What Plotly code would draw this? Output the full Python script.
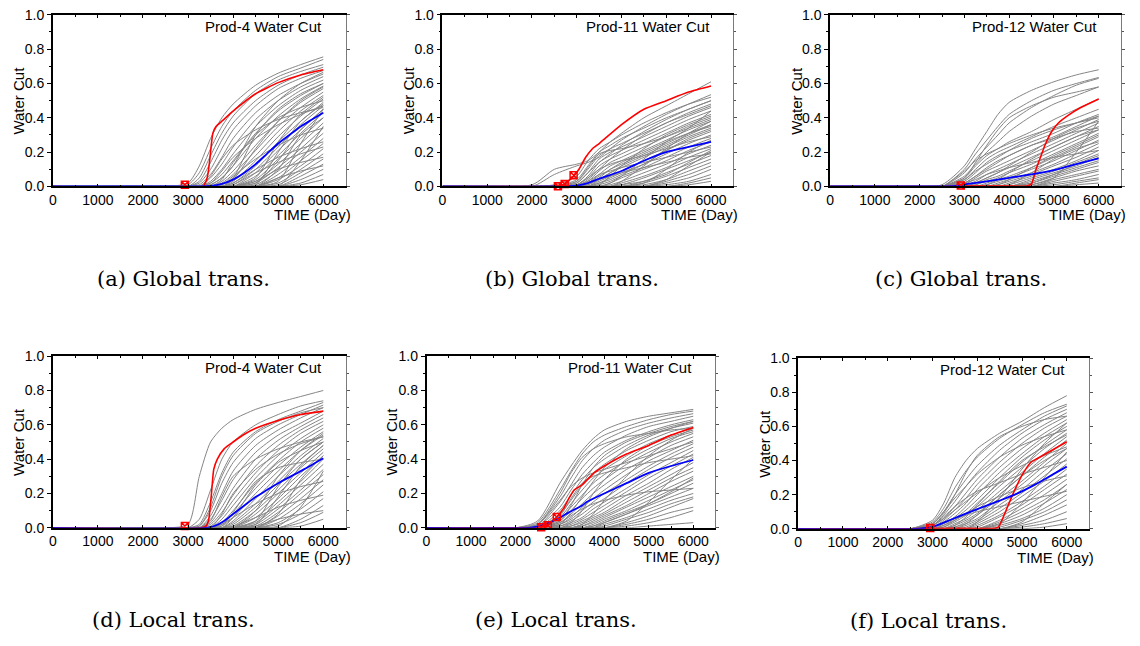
import plotly.graph_objects as go

# Common report times (days) for the ensemble members; each member is 0 at day 0
ENS_TIMES = [2000, 2500, 3000, 3250, 3500, 3750, 4000, 4500, 5000, 5500, 6000]

# ---- Prod-4, global transmissibility ----
ens_a = [
    [0, 0, 0.02, 0.12, 0.28, 0.40, 0.48, 0.59, 0.66, 0.71, 0.755],
    [0, 0, 0.01, 0.08, 0.22, 0.35, 0.44, 0.56, 0.64, 0.69, 0.74],
    [0, 0, 0, 0.05, 0.18, 0.31, 0.41, 0.54, 0.62, 0.67, 0.71],
    [0, 0, 0, 0.03, 0.14, 0.27, 0.37, 0.50, 0.59, 0.65, 0.695],
    [0, 0, 0, 0.02, 0.10, 0.22, 0.33, 0.47, 0.57, 0.63, 0.675],
    [0, 0, 0, 0.01, 0.07, 0.17, 0.28, 0.43, 0.53, 0.60, 0.655],
    [0, 0, 0, 0, 0.05, 0.13, 0.23, 0.39, 0.50, 0.58, 0.64],
    [0, 0, 0, 0, 0.03, 0.10, 0.19, 0.35, 0.47, 0.56, 0.62],
    [0, 0, 0, 0, 0.02, 0.07, 0.15, 0.31, 0.44, 0.53, 0.60],
    [0, 0, 0, 0, 0.01, 0.05, 0.12, 0.28, 0.41, 0.51, 0.585],
    [0, 0, 0, 0, 0, 0.03, 0.09, 0.24, 0.38, 0.49, 0.57],
    [0, 0, 0, 0, 0, 0.02, 0.07, 0.21, 0.35, 0.46, 0.55],
    [0, 0, 0, 0, 0, 0.01, 0.05, 0.18, 0.32, 0.44, 0.53],
    [0, 0, 0, 0, 0, 0, 0.03, 0.15, 0.29, 0.41, 0.51],
    [0, 0, 0, 0, 0, 0, 0.02, 0.12, 0.26, 0.38, 0.49],
    [0, 0, 0, 0, 0, 0, 0.01, 0.10, 0.23, 0.36, 0.47],
    [0, 0, 0, 0, 0, 0, 0, 0.08, 0.21, 0.33, 0.45],
    [0, 0, 0, 0, 0, 0, 0, 0.06, 0.18, 0.31, 0.43],
    [0, 0, 0, 0, 0, 0, 0, 0.04, 0.16, 0.28, 0.40],
    [0, 0, 0, 0, 0, 0, 0, 0.03, 0.13, 0.25, 0.37],
    [0, 0, 0, 0, 0, 0, 0, 0.02, 0.11, 0.22, 0.34],
    [0, 0, 0, 0, 0, 0, 0, 0.01, 0.09, 0.20, 0.31],
    [0, 0, 0, 0, 0, 0, 0, 0, 0.07, 0.17, 0.28],
    [0, 0, 0, 0, 0, 0, 0, 0, 0.05, 0.15, 0.25],
    [0, 0, 0, 0, 0, 0, 0, 0, 0.04, 0.12, 0.22],
    [0, 0, 0, 0, 0, 0, 0, 0, 0.02, 0.10, 0.19],
    [0, 0, 0, 0, 0, 0, 0, 0, 0.01, 0.08, 0.16],
    [0, 0, 0, 0, 0, 0, 0, 0, 0, 0.06, 0.13],
    [0, 0, 0, 0, 0, 0, 0, 0, 0, 0.04, 0.10],
    [0, 0, 0, 0, 0, 0, 0, 0, 0, 0.02, 0.07],
    [0, 0, 0, 0, 0, 0, 0, 0, 0, 0.01, 0.04],
    [0, 0, 0, 0, 0.06, 0.16, 0.24, 0.33, 0.39, 0.43, 0.46],
    [0, 0, 0, 0, 0.02, 0.09, 0.17, 0.28, 0.36, 0.42, 0.47],
    [0, 0, 0, 0, 0, 0, 0.04, 0.22, 0.38, 0.50, 0.58],
    [0, 0, 0, 0, 0, 0, 0, 0.05, 0.26, 0.42, 0.52],
    [0, 0, 0, 0, 0, 0, 0, 0.02, 0.15, 0.33, 0.45],
    [0, 0, 0, 0, 0, 0.04, 0.14, 0.30, 0.40, 0.46, 0.50],
    [0, 0, 0, 0, 0, 0, 0.02, 0.10, 0.17, 0.22, 0.26],
    [0, 0, 0, 0, 0, 0, 0, 0, 0.03, 0.25, 0.45],
    [0, 0, 0, 0, 0, 0, 0, 0.01, 0.20, 0.38, 0.48],
    [0, 0, 0, 0, 0, 0, 0.01, 0.08, 0.14, 0.19, 0.23],
    [0, 0, 0, 0, 0, 0.01, 0.06, 0.16, 0.24, 0.30, 0.34],
    [0, 0, 0, 0, 0, 0, 0, 0, 0.10, 0.30, 0.40],
    [0, 0, 0, 0, 0, 0, 0, 0.03, 0.10, 0.14, 0.17],
    [0, 0, 0, 0, 0, 0, 0, 0, 0, 0.15, 0.35],
    [0, 0, 0, 0, 0.01, 0.05, 0.12, 0.35, 0.50, 0.60, 0.665],
    [0, 0, 0, 0, 0, 0, 0.05, 0.30, 0.45, 0.54, 0.60],
    [0, 0, 0, 0, 0, 0, 0, 0, 0.05, 0.09, 0.12],
]
true_t_a = [0, 3330, 3400, 3440, 3480, 3515, 3550, 3620, 3770, 4050, 4500, 5000, 5500, 6000]
true_v_a = [0, 0, 0.03, 0.07, 0.15, 0.24, 0.31, 0.35, 0.385, 0.45, 0.54, 0.605, 0.65, 0.68]
mean_t_a = [0, 3300, 3500, 3750, 4000, 4250, 4500, 4750, 5000, 5250, 5500, 5750, 6000]
mean_v_a = [0, 0, 0.003, 0.015, 0.04, 0.08, 0.13, 0.19, 0.25, 0.30, 0.35, 0.39, 0.43]
obs_t_a = [2930]
obs_v_a = [0.01]

# ---- Prod-11, global transmissibility ----
ens_b = [
    [0.01, 0.10, 0.13, 0.15, 0.20, 0.26, 0.31, 0.40, 0.47, 0.54, 0.61],
    [0, 0.07, 0.12, 0.14, 0.17, 0.22, 0.27, 0.35, 0.42, 0.48, 0.535],
    [0, 0.01, 0.06, 0.15, 0.22, 0.26, 0.30, 0.37, 0.43, 0.48, 0.52],
    [0, 0, 0.04, 0.12, 0.20, 0.24, 0.28, 0.34, 0.40, 0.45, 0.50],
    [0, 0, 0.03, 0.10, 0.18, 0.22, 0.25, 0.31, 0.37, 0.43, 0.48],
    [0, 0, 0.02, 0.08, 0.16, 0.20, 0.23, 0.29, 0.35, 0.41, 0.46],
    [0, 0, 0.01, 0.06, 0.14, 0.18, 0.21, 0.27, 0.33, 0.39, 0.44],
    [0, 0, 0.01, 0.05, 0.12, 0.16, 0.19, 0.25, 0.31, 0.37, 0.42],
    [0, 0, 0, 0.03, 0.09, 0.14, 0.17, 0.23, 0.29, 0.35, 0.40],
    [0, 0, 0, 0.02, 0.07, 0.12, 0.15, 0.21, 0.27, 0.33, 0.38],
    [0, 0, 0, 0.01, 0.05, 0.10, 0.13, 0.19, 0.25, 0.31, 0.36],
    [0, 0, 0, 0, 0.04, 0.08, 0.11, 0.17, 0.23, 0.29, 0.34],
    [0, 0, 0, 0, 0.03, 0.06, 0.09, 0.15, 0.21, 0.27, 0.32],
    [0, 0, 0, 0, 0.02, 0.05, 0.08, 0.13, 0.19, 0.25, 0.30],
    [0, 0, 0, 0, 0.01, 0.03, 0.06, 0.11, 0.17, 0.23, 0.28],
    [0, 0, 0, 0, 0, 0.02, 0.05, 0.10, 0.15, 0.21, 0.26],
    [0, 0, 0, 0, 0, 0.01, 0.03, 0.08, 0.13, 0.19, 0.24],
    [0, 0, 0, 0, 0, 0, 0.02, 0.06, 0.11, 0.17, 0.22],
    [0, 0, 0, 0, 0, 0, 0.01, 0.05, 0.10, 0.15, 0.20],
    [0, 0, 0, 0, 0, 0, 0, 0.03, 0.08, 0.13, 0.18],
    [0, 0, 0, 0, 0, 0, 0, 0.02, 0.06, 0.11, 0.16],
    [0, 0, 0, 0, 0, 0, 0, 0.01, 0.04, 0.09, 0.14],
    [0, 0, 0, 0, 0, 0, 0, 0, 0.03, 0.07, 0.12],
    [0, 0, 0, 0, 0, 0, 0, 0, 0.02, 0.05, 0.10],
    [0, 0, 0, 0, 0, 0, 0, 0, 0.01, 0.03, 0.07],
    [0, 0, 0, 0, 0, 0, 0, 0, 0, 0.02, 0.05],
    [0, 0, 0, 0, 0, 0, 0, 0, 0, 0.01, 0.03],
    [0, 0, 0.02, 0.08, 0.14, 0.19, 0.24, 0.32, 0.39, 0.45, 0.50],
    [0, 0, 0, 0.04, 0.10, 0.16, 0.21, 0.30, 0.37, 0.42, 0.47],
    [0, 0, 0, 0.02, 0.06, 0.10, 0.14, 0.20, 0.26, 0.31, 0.35],
    [0, 0, 0.01, 0.03, 0.07, 0.09, 0.11, 0.14, 0.17, 0.20, 0.23],
    [0, 0, 0, 0, 0.02, 0.04, 0.07, 0.13, 0.21, 0.28, 0.33],
    [0, 0, 0, 0, 0, 0, 0.01, 0.03, 0.07, 0.14, 0.21],
    [0, 0, 0, 0.02, 0.04, 0.06, 0.08, 0.11, 0.14, 0.17, 0.19],
    [0, 0, 0.03, 0.11, 0.19, 0.21, 0.22, 0.25, 0.29, 0.34, 0.39],
    [0, 0, 0, 0, 0.01, 0.06, 0.12, 0.22, 0.30, 0.36, 0.41],
    [0, 0, 0, 0, 0, 0, 0.03, 0.12, 0.22, 0.31, 0.38],
    [0, 0, 0.01, 0.05, 0.10, 0.13, 0.15, 0.18, 0.22, 0.26, 0.29],
    [0, 0, 0, 0, 0, 0.02, 0.06, 0.16, 0.26, 0.34, 0.44],
    [0, 0, 0, 0, 0, 0, 0, 0.02, 0.10, 0.20, 0.27],
    [0, 0, 0, 0.01, 0.04, 0.08, 0.12, 0.18, 0.24, 0.30, 0.36],
    [0, 0, 0, 0, 0, 0, 0, 0, 0.04, 0.12, 0.20],
]
true_t_b = [0, 2400, 2580, 2730, 2930, 3050, 3200, 3350, 3500, 4000, 4500, 5000, 5500, 6000]
true_v_b = [0, 0, 0.002, 0.015, 0.06, 0.10, 0.17, 0.22, 0.25, 0.36, 0.45, 0.50, 0.55, 0.585]
mean_t_b = [0, 2500, 3000, 3250, 3500, 4000, 4500, 5000, 5500, 6000]
mean_v_b = [0, 0, 0.005, 0.02, 0.045, 0.09, 0.15, 0.20, 0.23, 0.26]
obs_t_b = [2580, 2730, 2930]
obs_v_b = [0.002, 0.015, 0.065]

# ---- Prod-12, global transmissibility ----
ens_c = [
    [0, 0.01, 0.12, 0.22, 0.32, 0.42, 0.49, 0.56, 0.61, 0.65, 0.68],
    [0, 0, 0.10, 0.19, 0.27, 0.35, 0.42, 0.50, 0.56, 0.60, 0.635],
    [0, 0, 0.08, 0.16, 0.23, 0.30, 0.37, 0.46, 0.53, 0.59, 0.63],
    [0, 0, 0.06, 0.13, 0.20, 0.26, 0.32, 0.41, 0.48, 0.53, 0.58],
    [0, 0, 0.05, 0.12, 0.18, 0.22, 0.26, 0.32, 0.39, 0.45, 0.51],
    [0, 0, 0.04, 0.10, 0.16, 0.20, 0.23, 0.29, 0.35, 0.40, 0.45],
    [0, 0, 0.03, 0.08, 0.14, 0.18, 0.21, 0.26, 0.31, 0.37, 0.42],
    [0, 0, 0.02, 0.06, 0.11, 0.15, 0.18, 0.24, 0.29, 0.35, 0.41],
    [0, 0, 0.01, 0.05, 0.09, 0.12, 0.15, 0.21, 0.27, 0.33, 0.39],
    [0, 0, 0.01, 0.03, 0.07, 0.10, 0.13, 0.19, 0.25, 0.31, 0.37],
    [0, 0, 0, 0.02, 0.05, 0.08, 0.11, 0.17, 0.23, 0.29, 0.35],
    [0, 0, 0, 0.01, 0.04, 0.06, 0.09, 0.15, 0.21, 0.27, 0.33],
    [0, 0, 0, 0.01, 0.03, 0.05, 0.08, 0.13, 0.19, 0.25, 0.31],
    [0, 0, 0, 0, 0.02, 0.04, 0.06, 0.11, 0.17, 0.23, 0.29],
    [0, 0, 0, 0, 0.01, 0.03, 0.05, 0.10, 0.15, 0.21, 0.27],
    [0, 0, 0, 0, 0, 0.02, 0.04, 0.08, 0.13, 0.19, 0.25],
    [0, 0, 0, 0, 0, 0.01, 0.03, 0.07, 0.12, 0.17, 0.23],
    [0, 0, 0, 0, 0, 0, 0.02, 0.06, 0.10, 0.15, 0.21],
    [0, 0, 0, 0, 0, 0, 0.01, 0.05, 0.09, 0.14, 0.19],
    [0, 0, 0, 0, 0, 0, 0, 0.04, 0.08, 0.12, 0.17],
    [0, 0, 0, 0, 0, 0, 0, 0.03, 0.07, 0.11, 0.15],
    [0, 0, 0, 0, 0, 0, 0, 0.02, 0.06, 0.10, 0.14],
    [0, 0, 0, 0, 0, 0, 0, 0.01, 0.05, 0.09, 0.12],
    [0, 0, 0, 0, 0, 0, 0, 0, 0.04, 0.07, 0.10],
    [0, 0, 0, 0, 0, 0, 0, 0, 0.03, 0.06, 0.09],
    [0, 0, 0, 0, 0, 0, 0, 0, 0.02, 0.04, 0.07],
    [0, 0, 0, 0, 0, 0, 0, 0, 0.01, 0.03, 0.05],
    [0, 0, 0, 0, 0, 0, 0, 0, 0, 0.02, 0.04],
    [0, 0, 0, 0, 0, 0, 0, 0, 0, 0.01, 0.02],
    [0, 0, 0.05, 0.14, 0.24, 0.33, 0.40, 0.47, 0.52, 0.55, 0.58],
    [0, 0, 0.02, 0.06, 0.10, 0.14, 0.18, 0.24, 0.28, 0.32, 0.34],
    [0, 0, 0, 0, 0, 0, 0, 0.01, 0.05, 0.20, 0.38],
    [0, 0, 0, 0.02, 0.05, 0.08, 0.12, 0.20, 0.28, 0.34, 0.38],
    [0, 0, 0.09, 0.15, 0.19, 0.22, 0.25, 0.30, 0.34, 0.37, 0.40],
    [0, 0, 0.04, 0.09, 0.13, 0.17, 0.21, 0.28, 0.33, 0.37, 0.41],
    [0, 0, 0, 0, 0.01, 0.04, 0.08, 0.16, 0.23, 0.29, 0.33],
    [0, 0, 0, 0, 0, 0, 0.01, 0.08, 0.16, 0.22, 0.26],
    [0, 0, 0.02, 0.04, 0.07, 0.09, 0.11, 0.14, 0.17, 0.19, 0.21],
    [0, 0, 0, 0, 0, 0.01, 0.04, 0.11, 0.18, 0.24, 0.30],
    [0, 0, 0, 0, 0, 0, 0, 0.02, 0.07, 0.13, 0.18],
]
true_t_c = [0, 2500, 3000, 3500, 4000, 4400, 4500, 4600, 4700, 4800, 4950, 5100, 5350, 5600, 6000]
true_v_c = [0, 0, 0.002, 0.002, 0.002, 0.003, 0.015, 0.10, 0.17, 0.24, 0.32, 0.37, 0.42, 0.46, 0.51]
mean_t_c = [0, 2500, 2800, 3000, 3500, 4000, 4500, 5000, 5500, 6000]
mean_v_c = [0, 0, 0.003, 0.012, 0.03, 0.05, 0.07, 0.095, 0.13, 0.163]
obs_t_c = [2920]
obs_v_c = [0.005]

# ---- Prod-4, local transmissibility ----
ens_d = [
    [0, 0, 0.02, 0.30, 0.50, 0.58, 0.63, 0.69, 0.73, 0.765, 0.80],
    [0, 0, 0, 0.05, 0.22, 0.40, 0.50, 0.60, 0.66, 0.71, 0.74],
    [0, 0, 0, 0.02, 0.15, 0.32, 0.44, 0.56, 0.63, 0.68, 0.73],
    [0, 0, 0, 0.01, 0.10, 0.26, 0.38, 0.52, 0.60, 0.66, 0.715],
    [0, 0, 0, 0, 0.07, 0.20, 0.33, 0.48, 0.57, 0.64, 0.70],
    [0, 0, 0, 0, 0.05, 0.16, 0.28, 0.44, 0.54, 0.61, 0.68],
    [0, 0, 0, 0, 0.03, 0.12, 0.23, 0.40, 0.51, 0.59, 0.66],
    [0, 0, 0, 0, 0.02, 0.09, 0.19, 0.36, 0.48, 0.57, 0.64],
    [0, 0, 0, 0, 0.01, 0.07, 0.16, 0.32, 0.45, 0.55, 0.62],
    [0, 0, 0, 0, 0, 0.05, 0.13, 0.29, 0.42, 0.52, 0.60],
    [0, 0, 0, 0, 0, 0.03, 0.10, 0.26, 0.39, 0.50, 0.58],
    [0, 0, 0, 0, 0, 0.02, 0.08, 0.23, 0.36, 0.47, 0.56],
    [0, 0, 0, 0, 0, 0.01, 0.06, 0.20, 0.33, 0.45, 0.54],
    [0, 0, 0, 0, 0, 0, 0.04, 0.17, 0.30, 0.42, 0.52],
    [0, 0, 0, 0, 0, 0, 0.03, 0.14, 0.27, 0.40, 0.50],
    [0, 0, 0, 0, 0, 0, 0.02, 0.12, 0.25, 0.37, 0.48],
    [0, 0, 0, 0, 0, 0, 0.01, 0.10, 0.22, 0.35, 0.46],
    [0, 0, 0, 0, 0, 0, 0, 0.08, 0.20, 0.32, 0.44],
    [0, 0, 0, 0, 0, 0, 0, 0.06, 0.17, 0.30, 0.42],
    [0, 0, 0, 0, 0, 0, 0, 0.04, 0.15, 0.27, 0.40],
    [0, 0, 0, 0, 0, 0, 0, 0.03, 0.13, 0.25, 0.37],
    [0, 0, 0, 0, 0, 0, 0, 0.02, 0.11, 0.22, 0.34],
    [0, 0, 0, 0, 0, 0, 0, 0.01, 0.09, 0.20, 0.31],
    [0, 0, 0, 0, 0, 0, 0, 0, 0.07, 0.17, 0.28],
    [0, 0, 0, 0, 0, 0, 0, 0, 0.05, 0.14, 0.25],
    [0, 0, 0, 0, 0, 0, 0, 0, 0.03, 0.11, 0.21],
    [0, 0, 0, 0, 0, 0, 0, 0, 0.02, 0.08, 0.17],
    [0, 0, 0, 0, 0, 0, 0, 0, 0, 0.05, 0.13],
    [0, 0, 0, 0, 0, 0, 0, 0, 0, 0.03, 0.09],
    [0, 0, 0, 0, 0, 0, 0, 0, 0, 0.01, 0.05],
    [0, 0, 0, 0, 0.04, 0.18, 0.30, 0.40, 0.46, 0.50, 0.53],
    [0, 0, 0, 0, 0, 0.08, 0.20, 0.34, 0.43, 0.49, 0.53],
    [0, 0, 0, 0, 0, 0, 0, 0.10, 0.30, 0.45, 0.55],
    [0, 0, 0, 0, 0, 0, 0.06, 0.25, 0.38, 0.45, 0.50],
    [0, 0, 0, 0, 0, 0, 0, 0.02, 0.18, 0.36, 0.48],
    [0, 0, 0, 0.01, 0.12, 0.30, 0.42, 0.55, 0.62, 0.67, 0.70],
    [0, 0, 0, 0, 0, 0, 0, 0, 0.08, 0.28, 0.42],
    [0, 0, 0, 0, 0, 0.02, 0.06, 0.14, 0.20, 0.24, 0.27],
    [0, 0, 0, 0, 0, 0, 0.01, 0.06, 0.12, 0.16, 0.19],
    [0, 0, 0, 0, 0, 0, 0, 0.04, 0.24, 0.40, 0.50],
    [0, 0, 0, 0, 0, 0.01, 0.09, 0.27, 0.35, 0.38, 0.40],
    [0, 0, 0, 0, 0, 0, 0, 0, 0.01, 0.12, 0.33],
    [0, 0, 0, 0, 0, 0, 0, 0.01, 0.05, 0.08, 0.10],
]
true_t_d = [0, 3300, 3400, 3460, 3520, 3570, 3650, 3800, 4000, 4250, 4500, 5000, 5500, 6000]
true_v_d = [0, 0, 0.01, 0.05, 0.20, 0.34, 0.40, 0.46, 0.50, 0.545, 0.58, 0.625, 0.66, 0.68]
mean_t_d = [0, 3400, 3600, 3800, 4000, 4250, 4500, 4750, 5000, 5500, 6000]
mean_v_d = [0, 0, 0.012, 0.04, 0.08, 0.13, 0.18, 0.22, 0.26, 0.33, 0.405]
obs_t_d = [2930]
obs_v_d = [0.01]

# ---- Prod-11, local transmissibility ----
ens_e = [
    [0, 0.04, 0.26, 0.36, 0.45, 0.52, 0.57, 0.62, 0.65, 0.67, 0.69],
    [0, 0.03, 0.22, 0.33, 0.43, 0.50, 0.54, 0.59, 0.63, 0.66, 0.68],
    [0, 0.02, 0.18, 0.29, 0.39, 0.46, 0.51, 0.57, 0.61, 0.64, 0.665],
    [0, 0.01, 0.15, 0.25, 0.35, 0.42, 0.47, 0.54, 0.59, 0.62, 0.65],
    [0, 0.01, 0.12, 0.22, 0.31, 0.38, 0.44, 0.51, 0.56, 0.60, 0.63],
    [0, 0, 0.10, 0.19, 0.28, 0.35, 0.40, 0.48, 0.54, 0.58, 0.61],
    [0, 0, 0.08, 0.16, 0.25, 0.32, 0.37, 0.45, 0.51, 0.56, 0.59],
    [0, 0, 0.06, 0.14, 0.22, 0.29, 0.34, 0.42, 0.49, 0.54, 0.58],
    [0, 0, 0.05, 0.12, 0.19, 0.26, 0.31, 0.39, 0.46, 0.52, 0.56],
    [0, 0, 0.04, 0.10, 0.17, 0.23, 0.28, 0.37, 0.44, 0.50, 0.55],
    [0, 0, 0.03, 0.08, 0.14, 0.20, 0.25, 0.34, 0.41, 0.48, 0.53],
    [0, 0, 0.02, 0.06, 0.12, 0.17, 0.22, 0.31, 0.39, 0.45, 0.51],
    [0, 0, 0.02, 0.05, 0.10, 0.15, 0.20, 0.28, 0.36, 0.43, 0.49],
    [0, 0, 0.01, 0.04, 0.08, 0.13, 0.17, 0.26, 0.34, 0.41, 0.47],
    [0, 0, 0.01, 0.03, 0.06, 0.11, 0.15, 0.23, 0.31, 0.38, 0.45],
    [0, 0, 0, 0.02, 0.05, 0.09, 0.13, 0.21, 0.29, 0.36, 0.43],
    [0, 0, 0, 0.01, 0.04, 0.07, 0.11, 0.19, 0.26, 0.34, 0.41],
    [0, 0, 0, 0.01, 0.03, 0.06, 0.09, 0.17, 0.24, 0.31, 0.38],
    [0, 0, 0, 0, 0.02, 0.05, 0.08, 0.15, 0.22, 0.29, 0.35],
    [0, 0, 0, 0, 0.01, 0.04, 0.07, 0.13, 0.20, 0.27, 0.33],
    [0, 0, 0, 0, 0.01, 0.03, 0.06, 0.12, 0.18, 0.24, 0.30],
    [0, 0, 0, 0, 0, 0.02, 0.05, 0.10, 0.16, 0.22, 0.28],
    [0, 0, 0, 0, 0, 0.01, 0.04, 0.09, 0.14, 0.20, 0.26],
    [0, 0, 0, 0, 0, 0, 0.03, 0.08, 0.13, 0.18, 0.23],
    [0, 0, 0, 0, 0, 0, 0.02, 0.06, 0.11, 0.16, 0.20],
    [0, 0, 0, 0, 0, 0, 0.01, 0.05, 0.09, 0.14, 0.18],
    [0, 0, 0, 0, 0, 0, 0, 0.03, 0.07, 0.12, 0.17],
    [0, 0, 0, 0, 0, 0, 0, 0.02, 0.05, 0.09, 0.12],
    [0, 0, 0, 0, 0, 0, 0, 0.01, 0.03, 0.06, 0.10],
    [0, 0, 0, 0, 0, 0, 0, 0, 0.01, 0.02, 0.03],
    [0, 0.02, 0.20, 0.32, 0.41, 0.46, 0.49, 0.53, 0.55, 0.57, 0.58],
    [0, 0, 0.04, 0.13, 0.25, 0.35, 0.42, 0.50, 0.55, 0.59, 0.62],
    [0, 0, 0, 0.03, 0.10, 0.20, 0.28, 0.40, 0.48, 0.53, 0.57],
    [0, 0.02, 0.16, 0.24, 0.29, 0.32, 0.34, 0.38, 0.42, 0.46, 0.50],
    [0, 0, 0.07, 0.17, 0.26, 0.30, 0.32, 0.35, 0.38, 0.40, 0.42],
    [0, 0, 0, 0, 0.02, 0.08, 0.16, 0.30, 0.42, 0.51, 0.58],
    [0, 0, 0.03, 0.07, 0.11, 0.14, 0.16, 0.19, 0.21, 0.22, 0.23],
    [0, 0, 0, 0, 0, 0, 0, 0.04, 0.15, 0.28, 0.40],
    [0, 0, 0.02, 0.09, 0.18, 0.27, 0.35, 0.46, 0.53, 0.58, 0.62],
    [0, 0, 0, 0, 0, 0.01, 0.03, 0.08, 0.14, 0.21, 0.29],
]
true_t_e = [0, 2400, 2580, 2730, 2930, 3100, 3200, 3320, 3500, 3770, 4000, 4500, 5000, 5500, 6000]
true_v_e = [0, 0, 0.003, 0.015, 0.063, 0.12, 0.17, 0.22, 0.25, 0.32, 0.36, 0.43, 0.48, 0.54, 0.585]
mean_t_e = [0, 2300, 2450, 2700, 2950, 3200, 3500, 3600, 4000, 4500, 5000, 5500, 6000]
mean_v_e = [0, 0, 0.005, 0.025, 0.053, 0.09, 0.13, 0.15, 0.20, 0.26, 0.32, 0.36, 0.395]
obs_t_e = [2580, 2730, 2930]
obs_v_e = [0.003, 0.015, 0.063]

# ---- Prod-12, local transmissibility ----
ens_f = [
    [0, 0, 0.05, 0.15, 0.30, 0.40, 0.47, 0.56, 0.63, 0.71, 0.78],
    [0, 0, 0.04, 0.12, 0.24, 0.34, 0.42, 0.53, 0.61, 0.68, 0.73],
    [0, 0, 0.03, 0.10, 0.20, 0.29, 0.37, 0.49, 0.58, 0.66, 0.72],
    [0, 0, 0.02, 0.08, 0.16, 0.25, 0.33, 0.46, 0.56, 0.64, 0.70],
    [0, 0, 0.02, 0.06, 0.13, 0.21, 0.29, 0.42, 0.53, 0.61, 0.68],
    [0, 0, 0.01, 0.05, 0.11, 0.18, 0.26, 0.39, 0.50, 0.59, 0.66],
    [0, 0, 0.01, 0.04, 0.09, 0.15, 0.23, 0.36, 0.47, 0.56, 0.64],
    [0, 0, 0, 0.03, 0.07, 0.13, 0.20, 0.33, 0.44, 0.54, 0.62],
    [0, 0, 0, 0.02, 0.06, 0.11, 0.17, 0.30, 0.42, 0.52, 0.60],
    [0, 0, 0, 0.01, 0.05, 0.09, 0.15, 0.27, 0.39, 0.49, 0.58],
    [0, 0, 0, 0.01, 0.04, 0.08, 0.13, 0.25, 0.36, 0.47, 0.56],
    [0, 0, 0, 0, 0.03, 0.06, 0.11, 0.22, 0.33, 0.44, 0.54],
    [0, 0, 0, 0, 0.02, 0.05, 0.09, 0.20, 0.31, 0.42, 0.52],
    [0, 0, 0, 0, 0.01, 0.04, 0.08, 0.18, 0.28, 0.39, 0.50],
    [0, 0, 0, 0, 0.01, 0.03, 0.06, 0.16, 0.26, 0.37, 0.47],
    [0, 0, 0, 0, 0, 0.02, 0.05, 0.14, 0.23, 0.34, 0.44],
    [0, 0, 0, 0, 0, 0.01, 0.04, 0.12, 0.21, 0.31, 0.41],
    [0, 0, 0, 0, 0, 0, 0.03, 0.10, 0.19, 0.28, 0.38],
    [0, 0, 0, 0, 0, 0, 0.02, 0.08, 0.16, 0.25, 0.35],
    [0, 0, 0, 0, 0, 0, 0.01, 0.07, 0.14, 0.23, 0.32],
    [0, 0, 0, 0, 0, 0, 0, 0.05, 0.12, 0.20, 0.29],
    [0, 0, 0, 0, 0, 0, 0, 0.04, 0.10, 0.17, 0.26],
    [0, 0, 0, 0, 0, 0, 0, 0.03, 0.08, 0.15, 0.23],
    [0, 0, 0, 0, 0, 0, 0, 0.02, 0.06, 0.12, 0.20],
    [0, 0, 0, 0, 0, 0, 0, 0.01, 0.05, 0.10, 0.17],
    [0, 0, 0, 0, 0, 0, 0, 0, 0.03, 0.08, 0.14],
    [0, 0, 0, 0, 0, 0, 0, 0, 0.02, 0.05, 0.10],
    [0, 0, 0, 0, 0, 0, 0, 0, 0.01, 0.03, 0.06],
    [0, 0, 0, 0, 0, 0, 0, 0, 0, 0.01, 0.03],
    [0, 0, 0.03, 0.10, 0.18, 0.25, 0.32, 0.42, 0.49, 0.54, 0.58],
    [0, 0, 0.02, 0.06, 0.11, 0.16, 0.21, 0.30, 0.37, 0.43, 0.48],
    [0, 0, 0, 0, 0, 0, 0.04, 0.18, 0.35, 0.50, 0.62],
    [0, 0, 0, 0.02, 0.05, 0.09, 0.13, 0.19, 0.24, 0.28, 0.31],
    [0, 0, 0.03, 0.09, 0.20, 0.33, 0.43, 0.54, 0.60, 0.64, 0.66],
    [0, 0, 0, 0, 0.02, 0.07, 0.14, 0.28, 0.40, 0.48, 0.55],
    [0, 0, 0.01, 0.03, 0.06, 0.08, 0.10, 0.13, 0.16, 0.19, 0.22],
    [0, 0, 0, 0, 0, 0, 0, 0.03, 0.15, 0.30, 0.45],
    [0, 0, 0.02, 0.07, 0.13, 0.18, 0.22, 0.27, 0.32, 0.36, 0.40],
    [0, 0, 0, 0, 0, 0.03, 0.08, 0.20, 0.31, 0.40, 0.47],
    [0, 0, 0, 0, 0, 0, 0, 0, 0.04, 0.15, 0.26],
]
true_t_f = [0, 2500, 3000, 4000, 4400, 4480, 4600, 4815, 5037, 5200, 5333, 5600, 6000]
true_v_f = [0, 0, 0.002, 0.002, 0.003, 0.012, 0.08, 0.215, 0.33, 0.39, 0.41, 0.45, 0.51]
mean_t_f = [0, 2600, 2963, 3100, 3407, 3800, 4148, 4500, 4889, 5300, 5700, 6000]
mean_v_f = [0, 0, 0.01, 0.02, 0.053, 0.095, 0.13, 0.165, 0.206, 0.26, 0.32, 0.364]
obs_t_f = [2950]
obs_v_f = [0.005]

well_titles = ["Prod-4 Water Cut", "Prod-11 Water Cut", "Prod-12 Water Cut",
               "Prod-4 Water Cut", "Prod-11 Water Cut", "Prod-12 Water Cut"]
captions = ["(a) Global trans.", "(b) Global trans.", "(c) Global trans.",
            "(d) Local trans.", "(e) Local trans.", "(f) Local trans."]

panels = [
    (ens_a, true_t_a, true_v_a, mean_t_a, mean_v_a, obs_t_a, obs_v_a),
    (ens_b, true_t_b, true_v_b, mean_t_b, mean_v_b, obs_t_b, obs_v_b),
    (ens_c, true_t_c, true_v_c, mean_t_c, mean_v_c, obs_t_c, obs_v_c),
    (ens_d, true_t_d, true_v_d, mean_t_d, mean_v_d, obs_t_d, obs_v_d),
    (ens_e, true_t_e, true_v_e, mean_t_e, mean_v_e, obs_t_e, obs_v_e),
    (ens_f, true_t_f, true_v_f, mean_t_f, mean_v_f, obs_t_f, obs_v_f),
]

# Plot boxes in pixels: left, right, top, bottom
W, H = 1140, 646
boxes = [
    (49, 343, 7, 183), (440, 732, 7, 183), (829, 1121, 7, 183),
    (49, 343, 357, 533), (424, 714, 357, 533), (797, 1089, 359, 534),
]
ytitle_x = [15, 406, 795, 15, 389, 763]
caption_cx = [180, 570, 960, 170, 554, 928]

SANS = "Liberation Sans, Arial, sans-serif"
SERIF = "DejaVu Serif, serif"

fig = go.Figure()
layout = dict(
    width=W, height=H, margin=dict(l=0, r=0, t=0, b=0),
    paper_bgcolor="white", plot_bgcolor="white", showlegend=False,
    annotations=[], shapes=[],
)

for i, (ens, tt, tv, mt, mv, ot, ov) in enumerate(panels):
    k = "" if i == 0 else str(i + 1)
    kr = str(i + 7)  # companion right-hand y axis for each panel
    xref, yref, yright = "x" + k, "y" + k, "y" + kr
    left, right, top, bottom = boxes[i]
    xdom = [left / W, right / W]
    ydom = [1 - bottom / H, 1 - top / H]

    for row in ens:
        fig.add_trace(go.Scatter(
            x=[0] + ENS_TIMES, y=[0] + row, mode="lines",
            line=dict(color="#858585", width=1, shape="spline", smoothing=0.7),
            xaxis=xref, yaxis=yref, hoverinfo="skip"))
    fig.add_trace(go.Scatter(
        x=tt, y=tv, mode="lines",
        line=dict(color="#ff0000", width=1.6, shape="spline", smoothing=0.5),
        xaxis=xref, yaxis=yref))
    fig.add_trace(go.Scatter(
        x=mt, y=mv, mode="lines",
        line=dict(color="#0000ff", width=1.8, shape="spline", smoothing=0.6),
        xaxis=xref, yaxis=yref))
    fig.add_trace(go.Scatter(
        x=ot, y=ov, mode="markers",
        marker=dict(symbol="square-x-open", size=7, color="#ff0000",
                    line=dict(width=1.5, color="#ff0000")),
        xaxis=xref, yaxis=yref, cliponaxis=False))
    # empty trace so the right-hand tick axis gets a subplot
    fig.add_trace(go.Scatter(x=[], y=[], xaxis=xref, yaxis=yright, hoverinfo="skip"))

    layout["xaxis" + k] = dict(
        domain=xdom, anchor=yref, range=[0, 6500], tickvals=[0, 1000, 2000, 3000, 4000, 5000, 6000],
        ticks="inside", ticklen=3, tickcolor="black", showgrid=False, zeroline=False,
        showline=True, linecolor="black", linewidth=1.5, mirror="ticks",
        minor=dict(tickvals=[500, 1500, 2500, 3500, 4500, 5500, 6500], ticks="inside", ticklen=2, tickcolor="black"),
        tickfont=dict(family=SANS, size=14, color="black"), fixedrange=True)
    layout["yaxis" + k] = dict(
        domain=ydom, anchor=xref, range=[0, 1.0], tickvals=[0, 0.2, 0.4, 0.6, 0.8, 1.0],
        tickformat=".1f", ticks="outside", ticklen=4, tickcolor="black",
        showgrid=False, zeroline=False, showline=True, linecolor="black", linewidth=1.5,
        minor=dict(tickvals=[0.1, 0.3, 0.5, 0.7, 0.9], ticks="outside", ticklen=2, tickcolor="black"),
        tickfont=dict(family=SANS, size=14, color="black"), fixedrange=True)
    layout["yaxis" + kr] = dict(
        domain=ydom, anchor=xref, overlaying=yref, side="right", range=[0, 1.0],
        tickvals=[0, 0.2, 0.4, 0.6, 0.8, 1.0], showticklabels=False,
        ticks="outside", ticklen=3, tickcolor="#555555",
        showgrid=False, zeroline=False, showline=True, linecolor="#7a7a7a", linewidth=1,
        minor=dict(tickvals=[0.1, 0.3, 0.5, 0.7, 0.9], ticks="outside", ticklen=2, tickcolor="#555555"),
        fixedrange=True)

    layout["annotations"] += [
        dict(text=well_titles[i], xref="paper", yref="paper",
             x=(right - 22) / W, y=1 - (top + 12) / H, xanchor="right", yanchor="middle",
             showarrow=False, font=dict(family=SANS, size=15, color="black")),
        dict(text="TIME (Day)", xref="paper", yref="paper",
             x=(right + 7) / W, y=1 - (bottom + 29) / H, xanchor="right", yanchor="middle",
             showarrow=False, font=dict(family=SANS, size=15, color="black")),
        dict(text="Water Cut", xref="paper", yref="paper", textangle=-90,
             x=ytitle_x[i] / W, y=1 - (top + bottom) / 2 / H, xanchor="center", yanchor="middle",
             showarrow=False, font=dict(family=SANS, size=15, color="black")),
        dict(text=captions[i], xref="paper", yref="paper",
             x=caption_cx[i] / W, y=1 - (bottom + 95) / H, xanchor="center", yanchor="middle",
             showarrow=False, font=dict(family=SERIF, size=21, color="black")),
    ]

fig.update_layout(**layout)
fig.write_html("out.html")
